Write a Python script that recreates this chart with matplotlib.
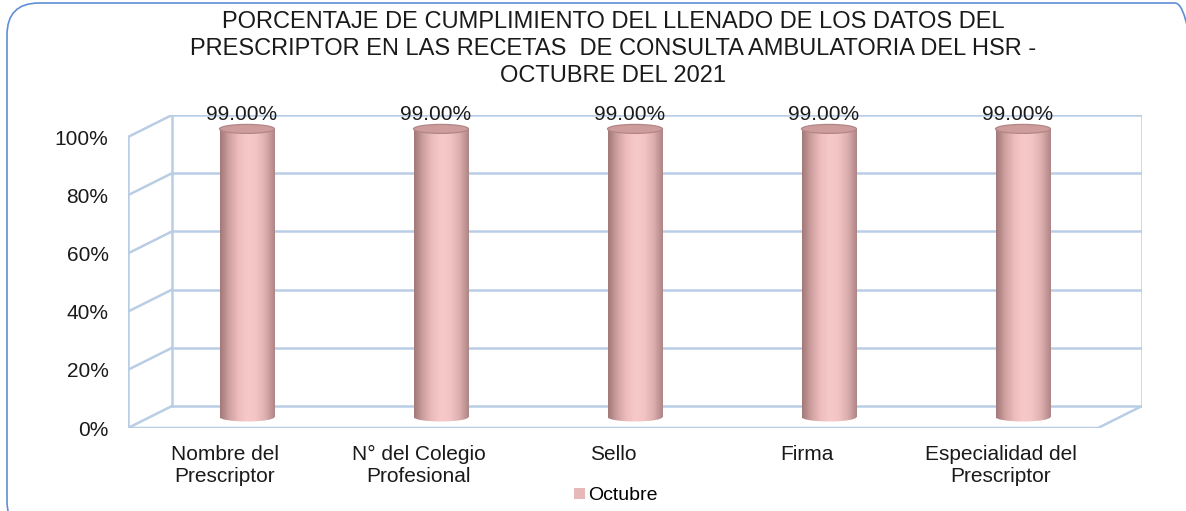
import matplotlib.pyplot as plt
import numpy as np
from matplotlib.colors import LinearSegmentedColormap
from matplotlib.patches import Rectangle, Ellipse, FancyBboxPatch, Patch

plt.rcParams['font.family'] = ['Liberation Sans', 'DejaVu Sans']

categories = ["Nombre del\nPrescriptor", "N° del Colegio\nProfesional", "Sello",
              "Firma", "Especialidad del\nPrescriptor"]
octubre = [99.0, 99.0, 99.0, 99.0, 99.0]
yticks = [0, 20, 40, 60, 80, 100]
title = ("PORCENTAJE DE CUMPLIMIENTO DEL LLENADO DE LOS DATOS DEL\n"
         "PRESCRIPTOR EN LAS RECETAS  DE CONSULTA AMBULATORIA DEL HSR -\n"
         "OCTUBRE DEL 2021")

W, H = 1186, 511
fig = plt.figure(figsize=(W / 100, H / 100), dpi=100)
ax = fig.add_axes([128 / W, (H - 428) / H, (1142 - 128) / W, (428 - 115) / H])

# fake 3d depth (in data units)
dx = 44 / 194
dy = 22 / 2.91
grid_c = '#B9CDE5'
n = len(categories)

# back wall gridlines
for v in yticks:
    ax.plot([-0.5, n - 0.5], [v, v], color=grid_c, lw=1.8, zorder=1)
    ax.plot([-0.5 - dx, -0.5], [v - dy, v], color=grid_c, lw=1.8, zorder=1)
ax.plot([-0.5, -0.5], [0, 100], color=grid_c, lw=1.8, zorder=1)
ax.plot([n - 0.5, n - 0.5], [0, 100], color=grid_c, lw=1.8, zorder=1)
ax.plot([-0.5 - dx, -0.5 - dx], [-dy, 100 - dy], color=grid_c, lw=1.8, zorder=1)
ax.plot([-0.5 - dx, n - 0.5 - dx, n - 0.5], [-dy, -dy, 0], color=grid_c, lw=1.8, zorder=1)

# cylinders
cmap = LinearSegmentedColormap.from_list(
    'cyl', ['#A27878', '#CFA0A0', '#EDBDBD', '#F6C9C9', '#F3C4C4', '#DDAEAE', '#AE8585'])
grad = np.linspace(0, 1, 200).reshape(1, -1)
bw = 55 / 194
eh = 9 / 2.91
for i, v in enumerate(octubre):
    cx = i - dx / 2
    y0 = -dy / 2
    rect = Rectangle((cx - bw / 2, y0), bw, v, fill=False, edgecolor='none')
    ell = Ellipse((cx, y0), bw, eh, fill=False, edgecolor='none')
    ax.add_patch(rect)
    ax.add_patch(ell)
    for clip in (rect, ell):
        im = ax.imshow(grad, cmap=cmap, aspect='auto', zorder=3,
                       extent=[cx - bw / 2, cx + bw / 2, y0 - eh, y0 + v])
        im.set_clip_path(clip)
    ax.add_patch(Ellipse((cx, y0 + v), bw, eh, facecolor='#CD9D9D',
                         edgecolor='#B38686', lw=0.9, zorder=4))
    ax.text(cx - 0.03, y0 + v + eh / 2 + 0.3, "%.2f%%" % v, ha='center',
            va='bottom', fontsize=15, color='#1a1a1a', zorder=5)

ax.set_xlim(-0.5 - dx, n - 0.5)
ax.set_ylim(-dy, 100)
ax.set_xticks([i - dx for i in range(n)])
ax.set_xticklabels(categories, fontsize=15, color='#1a1a1a', linespacing=1.25)
ax.set_yticks([v - dy for v in yticks])
ax.set_yticklabels(["%d%%" % v for v in yticks], fontsize=15, color='#1a1a1a')
ax.tick_params(axis='x', length=0, pad=12)
ax.tick_params(axis='y', length=0, pad=14)
for s in ax.spines.values():
    s.set_visible(False)
ax.patch.set_visible(False)

fig.text(613 / W, 1 - 11 / H, title, ha='center', va='top', fontsize=17,
         color='#1a1a1a', linespacing=1.3)

fig.legend(handles=[Patch(facecolor='#E6B9B8', label='Octubre')], loc='center',
           bbox_to_anchor=(616 / W, 1 - 496 / H), frameon=False, fontsize=14,
           handlelength=0.55, handleheight=0.55, handletextpad=0.2)

border = FancyBboxPatch((7, H - 3 - 530), 1200, 530,
                        boxstyle='round,pad=0,rounding_size=32',
                        transform=None, facecolor='none', edgecolor='#5E8FD5', lw=1.2)
fig.patches.append(border)

fig.savefig('out.png', dpi=100)
